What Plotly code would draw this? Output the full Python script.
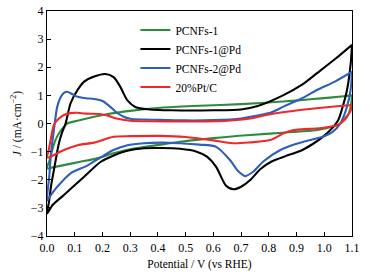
import plotly.graph_objects as go

# ---------------- data ----------------
series_names = ["PCNFs-1", "PCNFs-1@Pd", "PCNFs-2@Pd", "20%Pt/C"]
series_colors = ["#2E8B3E", "#000000", "#2F5FB8", "#F0282A"]

# PCNFs-1 (green): anodic then cathodic sweep
g_v_an = [0.0, 0.008, 0.019, 0.03, 0.045, 0.06, 0.073, 0.11, 0.17, 0.215, 0.3, 0.41, 0.55, 0.7, 0.85, 0.95, 1.03, 1.1]
g_j_an = [-1.6, -1.35, -0.94, -0.6, -0.32, -0.13, 0.0, 0.1, 0.24, 0.33, 0.45, 0.56, 0.63, 0.69, 0.78, 0.86, 0.93, 1.0]
g_v_ca = [1.1, 1.097, 1.09, 1.08, 1.07, 1.05, 1.0, 0.974, 0.85, 0.733, 0.6, 0.48, 0.41, 0.3, 0.24, 0.18, 0.12, 0.061, 0.02, 0.0]
g_j_ca = [1.0, 0.7, 0.4, 0.2, 0.1, -0.05, -0.18, -0.23, -0.33, -0.41, -0.52, -0.65, -0.75, -0.92, -1.06, -1.24, -1.36, -1.48, -1.56, -1.6]

# PCNFs-1@Pd (black)
k_v_an = [0.0, 0.007, 0.015, 0.025, 0.035, 0.043, 0.055, 0.067, 0.085, 0.11, 0.134, 0.17, 0.21, 0.24, 0.264, 0.29, 0.32, 0.37,
          0.45, 0.6, 0.7, 0.76, 0.853, 0.92, 0.974, 1.04, 1.1]
k_j_an = [-3.2, -2.8, -2.2, -1.65, -1.1, -0.7, -0.3, 0.0, 0.72, 1.19, 1.49, 1.67, 1.76, 1.65, 1.31, 0.82, 0.58, 0.5,
          0.47, 0.47, 0.5, 0.62, 1.01, 1.38, 1.79, 2.3, 2.8]
k_v_ca = [1.1, 1.095, 1.082, 1.065, 1.05, 1.025, 0.998, 0.96, 0.913, 0.86, 0.81, 0.77, 0.733, 0.7, 0.673, 0.645, 0.61,
          0.577, 0.54, 0.48, 0.41, 0.35, 0.29, 0.23, 0.194, 0.134, 0.061, 0.02, 0.0]
k_j_ca = [2.8, 2.1, 1.19, 0.55, 0.12, -0.2, -0.45, -0.72, -0.98, -1.16, -1.35, -1.62, -2.01, -2.25, -2.34, -2.2, -1.54,
          -1.18, -1.0, -0.9, -0.87, -0.88, -0.97, -1.18, -1.36, -1.89, -2.54, -2.9, -3.2]

# PCNFs-2@Pd (blue)
b_v_an = [0.0, 0.008, 0.015, 0.025, 0.037, 0.05, 0.062, 0.073, 0.09, 0.11, 0.14, 0.17, 0.2, 0.225, 0.25, 0.275, 0.3, 0.35,
          0.41, 0.5, 0.6, 0.7, 0.733, 0.805, 0.853, 0.92, 0.974, 1.04, 1.1]
b_j_an = [-2.75, -1.9, -1.0, -0.23, 0.6, 0.95, 1.1, 1.13, 1.05, 0.95, 0.9, 0.87, 0.8, 0.62, 0.4, 0.25, 0.17, 0.14,
          0.13, 0.11, 0.12, 0.18, 0.24, 0.38, 0.6, 0.9, 1.19, 1.5, 1.84]
b_v_ca = [1.1, 1.095, 1.082, 1.058, 1.03, 1.0, 0.96, 0.9, 0.84, 0.78, 0.745, 0.715, 0.69, 0.66, 0.61, 0.55, 0.48, 0.41,
          0.35, 0.29, 0.24, 0.194, 0.145, 0.085, 0.037, 0.01, 0.0]
b_j_ca = [1.84, 1.2, 0.6, 0.0, -0.3, -0.45, -0.56, -0.72, -0.95, -1.35, -1.7, -1.87, -1.7, -1.3, -0.83, -0.75, -0.7, -0.68,
          -0.7, -0.77, -0.94, -1.2, -1.5, -1.77, -2.25, -2.6, -2.75]

# 20%Pt/C (red)
r_v_an = [0.0, 0.005, 0.013, 0.025, 0.04, 0.061, 0.085, 0.11, 0.14, 0.19, 0.22, 0.25, 0.3, 0.37, 0.5, 0.65, 0.733, 0.805,
          0.913, 1.0, 1.1]
r_j_an = [-1.2, -1.0, -0.59, -0.05, 0.15, 0.3, 0.37, 0.38, 0.35, 0.34, 0.28, 0.18, 0.1, 0.08, 0.07, 0.1, 0.18, 0.33,
          0.48, 0.57, 0.66]
r_v_ca = [1.1, 1.095, 1.08, 1.058, 1.03, 0.998, 0.95, 0.89, 0.853, 0.805, 0.733, 0.67, 0.6, 0.5, 0.41, 0.3, 0.24, 0.17,
          0.11, 0.061, 0.025, 0.01, 0.0]
r_j_ca = [0.66, 0.45, 0.24, 0.0, -0.1, -0.15, -0.19, -0.23, -0.35, -0.59, -0.67, -0.7, -0.6, -0.48, -0.44, -0.45, -0.47,
          -0.68, -0.77, -0.94, -1.12, -1.2, -1.2]

x_tick_vals = [0.0, 0.1, 0.2, 0.3, 0.4, 0.5, 0.6, 0.7, 0.8, 0.9, 1.0, 1.1]
x_tick_text = ["0.0", "0.1", "0.2", "0.3", "0.4", "0.5", "0.6", "0.7", "0.8", "0.9", "1.0", "1.1"]
y_tick_vals = [-4, -3, -2, -1, 0, 1, 2, 3, 4]

# ---------------- figure ----------------
curves = [
    (g_v_an + g_v_ca, g_j_an + g_j_ca),
    (k_v_an + k_v_ca, k_j_an + k_j_ca),
    (b_v_an + b_v_ca, b_j_an + b_j_ca),
    (r_v_an + r_v_ca, r_j_an + r_j_ca),
]

FONT = "Liberation Serif"
fig = go.Figure()
for name, color, (xv, yv) in zip(series_names, series_colors, curves):
    fig.add_trace(go.Scatter(
        x=xv, y=yv, mode="lines", name=name,
        line=dict(color=color, width=2.1, shape="spline", smoothing=0.8),
    ))

fig.update_layout(
    width=376, height=277,
    margin=dict(l=47, r=24, t=11, b=41, autoexpand=False),
    paper_bgcolor="white", plot_bgcolor="white",
    font=dict(family=FONT, size=12, color="black"),
    showlegend=True,
    legend=dict(x=0.29, y=0.98, xanchor="left", yanchor="top",
                bgcolor="rgba(0,0,0,0)", font=dict(family=FONT, size=11.5, color="black"),
                itemwidth=30),
    xaxis=dict(
        range=[0, 1.1], tickmode="array", tickvals=x_tick_vals, ticktext=x_tick_text,
        ticks="inside", ticklen=4, tickwidth=1, tickcolor="black",
        showline=True, linecolor="black", linewidth=1.3, mirror=True,
        showgrid=False, zeroline=False, automargin=False, ticklabeloverflow="allow",
        tickfont=dict(family=FONT, size=12),
        title=dict(text="Potential / V (vs RHE)", font=dict(family=FONT, size=11.5), standoff=6),
    ),
    yaxis=dict(
        range=[-4, 4], tickmode="array", tickvals=y_tick_vals,
        ticks="inside", ticklen=4, tickwidth=1, tickcolor="black",
        showline=True, linecolor="black", linewidth=1.3, mirror=True,
        showgrid=False, zeroline=False, automargin=False, ticklabeloverflow="allow",
        tickfont=dict(family=FONT, size=12),
        title=dict(text="<i>J</i> / (mA·cm<sup>−2</sup>)", font=dict(family=FONT, size=11.5), standoff=6),
    ),
)

# remove the default page margin so the figure sits at the window's top-left corner
fig.write_html("out.html", config={"displayModeBar": False},
               post_script="document.body.style.margin='0px';")
